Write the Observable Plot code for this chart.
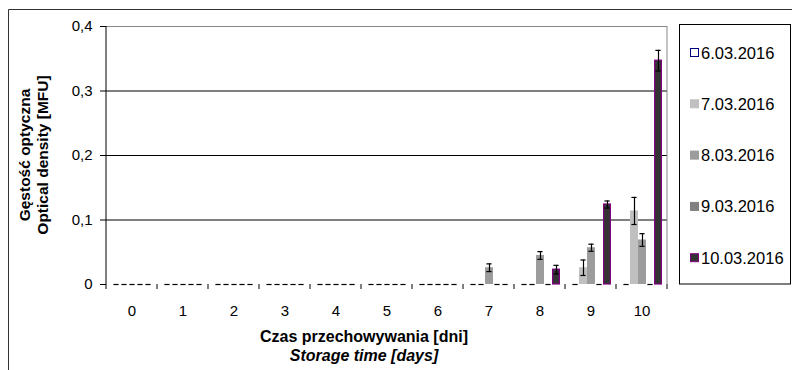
<!DOCTYPE html>
<html><head><meta charset="utf-8">
<script src="https://cdn.jsdelivr.net/npm/d3@7"></script>
<script src="https://cdn.jsdelivr.net/npm/@observablehq/plot@0.6"></script>
<style>
body{margin:0;background:#fff}
#chart svg{font-family:Arial,"Liberation Sans",sans-serif;display:block}
</style>
</head><body><div id="chart"></div>
<script>
const days = ["0","1","2","3","4","5","6","7","8","9","10"];
const series = ["6.03.2016","7.03.2016","8.03.2016","9.03.2016","10.03.2016"];
const fills = ["#ffffff","#c0c0c0","#9c9c9c","#808080","#333333"];
const legendStrokes = ["#000080","none","none","none","#800080"];
// values per series (index = day)
const v0603 = [0,0,0,0,0,0,0,0,0,0,0];
const v0703 = [0,0,0,0,0,0,0,0,0,0.026,0.114];
const v0803 = [0,0,0,0,0,0,0,0.026,0.045,0.057,0.069];
const v0903 = [0,0,0,0,0,0,0,0,0,0,0];
const v1003 = [0,0,0,0,0,0,0,0,0.023,0.124,0.347];
// standard deviations
const e0603 = [0,0,0,0,0,0,0,0,0,0,0];
const e0703 = [0,0,0,0,0,0,0,0,0,0.012,0.021];
const e0803 = [0,0,0,0,0,0,0,0.006,0.006,0.0055,0.0098];
const e0903 = [0,0,0,0,0,0,0,0,0,0,0];
const e1003 = [0,0,0,0,0,0,0,0,0.0067,0.0055,0.016];
const yTicks = [0,0.1,0.2,0.3,0.4];
const yTickLabels = ["0","0,1","0,2","0,3","0,4"];
const yTitle = ["Gęstość optyczna","Optical density [MFU]"];
const xTitle = ["Czas przechowywania [dni]","Storage time [days]"];

const values = [v0603,v0703,v0803,v0903,v1003];
const errors = [e0603,e0703,e0803,e0903,e1003];
const rows = [];
series.forEach((s,si)=>days.forEach((d,di)=>rows.push({day:d,series:s,value:values[si][di],err:errors[si][di]})));
const pos = rows.filter(r=>r.value>0);
const last = series[series.length-1];

const W=792,H=370;
const font = "Arial, 'Liberation Sans', sans-serif";
const chart = Plot.plot({
  width:W,height:H,
  marginLeft:103,marginRight:122,marginTop:26,marginBottom:86,
  style:{fontFamily:font,fontSize:"15px",color:"#000",background:"transparent",overflow:"visible"},
  fx:{domain:days,padding:0,label:null},
  x:{domain:series,paddingInner:0,paddingOuter:0.61,axis:null},
  y:{domain:[0,0.4],axis:null},
  color:{domain:series,range:fills},
  marks:[
    Plot.ruleY([0.1,0.2,0.3],{stroke:"#000",strokeWidth:1}),
    Plot.ruleY([0.4],{stroke:"#888",strokeWidth:1}),
    Plot.barY(pos.filter(r=>r.series!==last),{fx:"day",x:"series",y:"value",fill:"series"}),
    Plot.barY(pos.filter(r=>r.series===last),{fx:"day",x:"series",y:"value",fill:"series",stroke:"#800080",strokeWidth:1.2,insetLeft:0.6,insetRight:0.6}),
    Plot.ruleX(pos,{fx:"day",x:"series",y1:d=>d.value-d.err,y2:d=>d.value+d.err,stroke:"#000",strokeWidth:1.2}),
    Plot.tickY(rows,{fx:"day",x:"series",y:d=>d.value-d.err,stroke:"#000",strokeWidth:1.2,insetLeft:1.4,insetRight:1.4}),
    Plot.tickY(pos,{fx:"day",x:"series",y:d=>d.value+d.err,stroke:"#000",strokeWidth:1.2,insetLeft:1.4,insetRight:1.4}),
    Plot.axisY({ticks:yTicks,tickFormat:d=>yTickLabels[yTicks.indexOf(d)],tickSize:6,tickPadding:8,label:null,fontSize:15}),
    Plot.axisFx({anchor:"bottom",tickSize:0,tickPadding:21,label:null,fontSize:15})
  ]
});
document.getElementById("chart").appendChild(chart);

const svg = d3.select(chart);
const fx = chart.scale("fx");
const yS = chart.scale("y");
const y0 = yS.apply(0), yTop = yS.apply(0.4);
const xLeft = fx.apply(days[0]);
const xRight = fx.apply(days[days.length-1]) + fx.bandwidth;
const g = svg.append("g").attr("text-anchor","middle");
// category boundary ticks
days.concat([null]).forEach((d,i)=>{
  const x = d===null ? xRight : fx.apply(d);
  g.append("line").attr("x1",x).attr("x2",x).attr("y1",y0).attr("y2",y0+5).attr("stroke","#000");
});
// left axis line, right/top border
g.append("line").attr("x1",xLeft).attr("x2",xLeft).attr("y1",yTop).attr("y2",y0).attr("stroke","#000");
g.append("line").attr("x1",xRight).attr("x2",xRight).attr("y1",yTop).attr("y2",y0).attr("stroke","#888");
// outer frame
g.append("line").attr("x1",8.5).attr("x2",W).attr("y1",9.5).attr("y2",9.5).attr("stroke","#333");
g.append("line").attr("x1",8.5).attr("x2",8.5).attr("y1",9.5).attr("y2",H).attr("stroke","#333");
// y title
const yMid = (y0+yTop)/2;
[[29.5,yTitle[0]],[47.5,yTitle[1]]].forEach(([x,t])=>{
  g.append("text").attr("transform",`translate(${x},${yMid}) rotate(-90)`).attr("text-anchor","middle")
   .attr("font-weight","bold").attr("font-size",15.5).attr("font-family",font).text(t);
});
// x title
const xMid = 364;
g.append("text").attr("x",xMid).attr("y",342).attr("text-anchor","middle").attr("font-weight","bold").attr("font-size",16).attr("font-family",font).text(xTitle[0]);
g.append("text").attr("x",xMid).attr("y",361).attr("text-anchor","middle").attr("font-weight","bold").attr("font-style","italic").attr("font-size",16).attr("font-family",font).text(xTitle[1]);
// legend
const lg = svg.append("g").attr("text-anchor","start");
lg.append("rect").attr("x",679.5).attr("y",24.5).attr("width",111).attr("height",259.5).attr("fill","#fff").attr("stroke","#000");
series.forEach((s,i)=>{
  const cy = 53 + i*51.3;
  lg.append("rect").attr("x",690.5).attr("y",cy-4.5).attr("width",8).attr("height",8)
    .attr("fill",fills[i]).attr("stroke",legendStrokes[i]==="none"?fills[i]:legendStrokes[i]).attr("stroke-width",1);
  lg.append("text").attr("x",701).attr("y",cy+5.5).attr("text-anchor","start").attr("font-size",16.5).attr("font-family",font).text(s);
});
</script>
</body></html>
